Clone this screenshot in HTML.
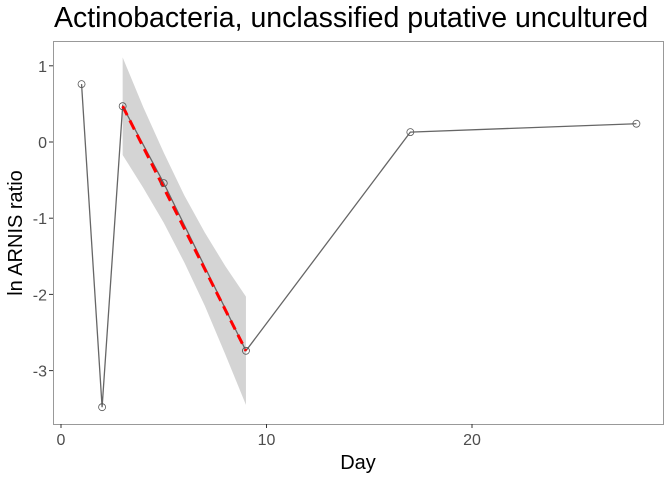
<!DOCTYPE html>
<html><head><meta charset="utf-8"><style>
body{margin:0;background:#fff;font-family:"Liberation Sans",sans-serif}
</style></head><body>
<svg id="chart" width="672" height="480" xmlns="http://www.w3.org/2000/svg" font-family="Liberation Sans, sans-serif"></svg>
<script>
const days=[1,2,3,5,9,17,28];
const ratios=[0.76,-3.48,0.47,-0.54,-2.74,0.13,0.24];
const fitX=[3,4,5,6,7,8,9];
const fitY=[0.47,-0.07,-0.60,-1.14,-1.67,-2.21,-2.74];
const fitHalf=[0.64,0.53,0.46,0.44,0.48,0.58,0.71];
const xTicks=[0,10,20];
const yTicks=[1,0,-1,-2,-3];
const X=v=>61+v*20.55;
const Y=v=>142-v*76.2;
const svg=document.getElementById('chart');
const NS='http://www.w3.org/2000/svg';
function mk(t,a,p){const e=document.createElementNS(NS,t);for(const k in a)e.setAttribute(k,a[k]);(p||svg).appendChild(e);return e;}
let e;
e=mk('rect',{x:53.5,y:41.5,width:610,height:383,fill:'#fff',stroke:'#999','stroke-width':1});


let pts=fitX.map((x,i)=>X(x)+','+Y(fitY[i]+fitHalf[i]));
for(let i=fitX.length-1;i>=0;i--)pts.push(X(fitX[i])+','+Y(fitY[i]-fitHalf[i]));
e=mk('polygon',{points:pts.join(' '),fill:'#d4d4d4'});


e=mk('polyline',{points:days.map((d,i)=>X(d)+','+Y(ratios[i])).join(' '),fill:'none',stroke:'#666','stroke-width':1.3});


e=mk('line',{x1:X(fitX[0]),y1:Y(fitY[0]),x2:X(fitX[fitX.length-1]),y2:Y(fitY[fitY.length-1]),stroke:'#f00','stroke-width':3,'stroke-dasharray':'10,6'});


days.forEach((d,i)=>{const c=mk('circle',{cx:X(d),cy:Y(ratios[i]),r:3.5,fill:'none',stroke:'#555','stroke-width':0.8});

});
xTicks.forEach(t=>{mk('line',{x1:X(t),x2:X(t),y1:424,y2:428,stroke:'#333'});
const tx=mk('text',{x:X(t),y:445,'text-anchor':'middle',style:'font-size:16px',fill:'#4d4d4d'});tx.textContent=t;

});
yTicks.forEach(t=>{mk('line',{x1:49,x2:53,y1:Y(t),y2:Y(t),stroke:'#333'});
const tx=mk('text',{x:47,y:Y(t)+6,'text-anchor':'end',style:'font-size:16px',fill:'#4d4d4d'});tx.textContent=t;

});
e=mk('text',{x:358,y:469,'text-anchor':'middle',style:'font-size:20px'});e.textContent='Day';


e=mk('text',{x:0,y:0,'text-anchor':'middle',style:'font-size:20px',transform:'translate(22,233) rotate(-90)'});e.textContent='ln ARNIS ratio';


e=mk('text',{x:54,y:27,style:'font-size:28.5px'});e.textContent='Actinobacteria, unclassified putative uncultured';


</script>
</body></html>
